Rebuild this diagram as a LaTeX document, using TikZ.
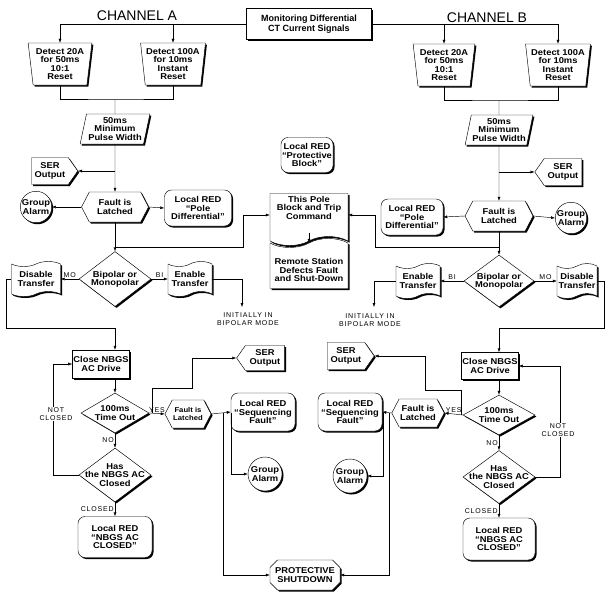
\documentclass[tikz,border=0pt]{standalone}
\usepackage{fontspec}
\setmainfont{Liberation Sans}
\newfontfamily\boxfont[Ligatures=TeX,FakeStretch=1.1]{Liberation Sans}
\newfontfamily\tagfont[Ligatures=TeX,LetterSpace=12]{Liberation Sans}
\usetikzlibrary{shapes.geometric,shapes.symbols,shapes.misc,shadows,arrows.meta}

\begin{document}
\begin{tikzpicture}[x=1pt,y=-1pt]
		\newcommand{\colA}{115} % main column of channel A
		\newcommand{\colB}{499} % main column of channel B
		\newcommand{\shad}{1.5pt} % offset of the heavy edges

		% set the styles of the boxes
		\tikzset{
			blk/.style={
				draw,
				line width=0.45pt,
				fill=white,
				align=center,
				inner sep=1pt,
				font=\boxfont\bfseries\fontsize{8.5}{8.4}\selectfont,
				drop shadow={shadow xshift=\shad, shadow yshift=-\shad, opacity=1, fill=black}
				},
			act/.style={blk, rectangle},
			det/.style={blk, trapezium, trapezium stretches=true, trapezium left angle=98, trapezium right angle=98, minimum height=42pt},
			pulse/.style={blk, trapezium, trapezium stretches=true, trapezium left angle=76, trapezium right angle=104, minimum height=30pt},
			ser/.style={blk, signal, signal pointer angle=110},
			latch/.style={blk, signal, signal pointer angle=125},
			alarm/.style={blk, circle, inner sep=0pt},
			red/.style={blk, rounded corners=7pt},
			dec/.style={blk, diamond, inner sep=-10pt},
			xfer/.style={blk, tape, tape bend height=5pt},
			small/.style={font=\boxfont\bfseries\fontsize{7}{7.4}\selectfont},
			tag/.style={font=\tagfont\fontsize{7}{7.6}\selectfont, inner sep=1pt, align=center},
			chan/.style={font=\fontsize{14}{14}\selectfont, inner sep=0pt},
			wire/.style={line width=0.45pt},
			arr/.style={wire, -{Latex[length=4pt,width=3pt]}}
		}
		\useasboundingbox (0,0) rectangle (607,597);

		% top
		\node[act, font=\bfseries\fontsize{9}{9.5}\selectfont, minimum width=125pt, minimum height=31pt] (mon) at (309,24) {Monitoring Differential\\CT Current Signals};
		\node[chan] (chA) at (137,16) {CHANNEL A};
		\node[chan] (chB) at (487,18) {CHANNEL B};

		% detectors
		\node[det, minimum width=64pt] (detA1) at (60,64) {Detect 20A\\for 50ms\\10:1\\Reset};
		\node[det, minimum width=62pt] (detA2) at (173,64) {Detect 100A\\for 10ms\\Instant\\Reset};
		\node[det, minimum width=62pt] (detB1) at (444,65) {Detect 20A\\for 50ms\\10:1\\Reset};
		\node[det, minimum width=63pt] (detB2) at (558,65) {Detect 100A\\for 10ms\\Instant\\Reset};

		\node[pulse, minimum width=70pt] (pulseA) at (\colA,129) {50ms\\Minimum\\Pulse Width};
		\node[pulse, minimum width=62pt] (pulseB) at (\colB,130) {50ms\\Minimum\\Pulse Width};

		% latching, channel A
		\node[ser, signal to=east, minimum width=46pt, minimum height=27pt] (serA1) at (50,171) {SER\\Output};
		\node[latch, signal to=east and west, minimum width=67pt, minimum height=30pt] (faultA1) at (\colA,207) {Fault is\\Latched};
		\node[alarm, minimum size=29pt] (grpA1) at (36,207) {Group\\Alarm};
		\node[red, minimum width=67pt, minimum height=36pt] (locA1) at (198,208) {Local RED\\``Pole\\Differential''};

		% latching, channel B
		\node[ser, signal to=west, minimum width=47pt, minimum height=27pt] (serB1) at (563,172) {SER\\Output};
		\node[latch, signal to=east and west, minimum width=68pt, minimum height=30pt] (faultB1) at (\colB,216) {Fault is\\Latched};
		\node[alarm, minimum size=29pt] (grpB1) at (571,218) {Group\\Alarm};
		\node[red, minimum width=62pt, minimum height=36pt] (locB1) at (412,217) {Local RED\\``Pole\\Differential''};

		% centre
		\node[red, minimum width=52pt, minimum height=35pt] (prot) at (307,155) {Local RED\\``Protective\\Block''};
		\node[xfer, tape bend top=none, tape bend height=9pt, minimum width=78pt, minimum height=52pt] (thisP) at (309,215) {This Pole\\Block and Trip\\Command\\[6pt]};
		\node[xfer, tape bend bottom=none, tape bend height=9pt, minimum width=78pt, minimum height=50pt] (remote) at (309,268) {\\[2pt]Remote Station\\Defects Fault\\and Shut-Down};

		% mode decision
		\node[dec, minimum width=72pt, minimum height=55pt] (diaA) at (\colA,279) {Bipolar or\\Monopolar};
		\node[dec, minimum width=70pt, minimum height=52pt] (diaB) at (\colB,281) {Bipolar or\\Monopolar};
		\node[xfer, minimum width=49pt, minimum height=35pt] (disA) at (36,279) {Disable\\Transfer};
		\node[xfer, minimum width=44pt, minimum height=35pt] (enA) at (190,279) {Enable\\Transfer};
		\node[xfer, minimum width=44pt, minimum height=35pt] (enB) at (418,281) {Enable\\Transfer};
		\node[xfer, minimum width=40pt, minimum height=35pt] (disB) at (577,281) {Disable\\Transfer};
		\node[tag] (iniA) at (248,319) {INITIALLY IN\\BIPOLAR MODE};
		\node[tag] (iniB) at (370,320) {INITIALLY IN\\BIPOLAR MODE};

		% NBGS sequence
		\node[act, minimum width=46pt, minimum height=28pt] (closeA) at (101,364) {Close NBGS\\AC Drive};
		\node[act, minimum width=54pt, minimum height=27pt] (closeB) at (490,366) {Close NBGS\\AC Drive};
		\node[dec, minimum width=68pt, minimum height=40pt] (timeA) at (\colA,413) {100ms\\Time Out};
		\node[dec, minimum width=72pt, minimum height=40pt] (timeB) at (\colB,415) {100ms\\Time Out};
		\node[dec, minimum width=72pt, minimum height=54pt] (hasA) at (\colA,475) {Has\\the NBGS AC\\Closed};
		\node[dec, minimum width=72pt, minimum height=53pt] (hasB) at (\colB,477) {Has\\the NBGS AC\\Closed};
		\node[red, minimum width=74pt, minimum height=41pt] (locA3) at (\colA,537) {Local RED\\``NBGS AC\\CLOSED''};
		\node[red, minimum width=72pt, minimum height=42pt] (locB3) at (\colB,539) {Local RED\\``NBGS AC\\CLOSED''};

		% sequencing fault
		\node[latch, small, signal to=east and west, minimum width=32pt, minimum height=28pt] (faultA2) at (188,414) {Fault is\\Latched};
		\node[latch, signal to=east and west, minimum width=43pt, minimum height=28pt] (faultB2) at (418,413) {Fault is\\Latched};
		\node[red, minimum width=64pt, minimum height=38pt] (locA2) at (263,412) {Local RED\\``Sequencing\\Fault''};
		\node[red, minimum width=64pt, minimum height=38pt] (locB2) at (350,412) {Local RED\\``Sequencing\\Fault''};
		\node[ser, signal to=west, minimum width=48pt, minimum height=25pt] (serA2) at (265,358) {SER\\Output};
		\node[ser, signal to=east, minimum width=47pt, minimum height=27pt] (serB2) at (346,356) {SER\\Output};
		\node[alarm, minimum size=34pt] (grpA2) at (265,474) {Group\\Alarm};
		\node[alarm, minimum size=34pt] (grpB2) at (350,476) {Group\\Alarm};
		\node[blk, chamfered rectangle, chamfered rectangle xsep=4pt, minimum width=70pt, minimum height=30pt] (shut) at (305,575) {PROTECTIVE\\SHUTDOWN};

		% junctions
		\coordinate (jA) at (\colA,99);
		\coordinate (jB) at (\colB,100);
		\coordinate (kA) at (\colA,247);
		\coordinate (kA2) at (243,247);
		\coordinate (kB) at (\colB,247);
		\coordinate (kB2) at (375,247);
		\coordinate (eA) at (242,307);
		\coordinate (eB) at (374,307);
		\coordinate (dA) at (6,328);
		\coordinate (dA2) at (\colA,328);
		\coordinate (dB) at (604,328);
		\coordinate (dB2) at (\colB,328);
		\coordinate (yA) at (152,413);
		\coordinate (yA2) at (192,388);
		\coordinate (yB) at (461,415);
		\coordinate (yB2) at (425,390);
		\coordinate (vA1) at (223,413);
		\coordinate (vA2) at (231,413);
		\coordinate (vB1) at (383,413);
		\coordinate (vB2) at (389,413);
		\coordinate (nA) at (53,475);
		\coordinate (nB) at (560,477);

		% feed to the detectors
		\draw[arr] (mon.west) -| (detA1.north);
		\draw[arr] (mon.west -| detA2.north) -- (detA2.north);
		\draw[arr] (mon.east) -| (detB2.north);
		\draw[arr] (mon.east -| detB1.north) -- (detB1.north);
		\draw[wire] (detA1.south) |- (jA) -| (detA2.south);
		\draw[wire] (detB1.south) |- (jB) -| (detB2.south);
		\draw[wire] (jA) -- (pulseA.north);
		\draw[wire] (jB) -- (pulseB.north);

		% latching
		\draw[arr] (pulseA.south) -- (faultA1.north);
		\draw[arr] (pulseA.south |- serA1.east) -- (serA1.east);
		\draw[arr] (faultA1.west) -- (grpA1.east);
		\draw[arr] (faultA1.east) -- (locA1.west);
		\draw[arr] (pulseB.south) -- (faultB1.north);
		\draw[arr] (pulseB.south |- serB1.west) -- (serB1.west);
		\draw[arr] (faultB1.east) -- (grpB1.west);
		\draw[arr] (faultB1.west) -- (locB1.east);

		% trip command
		\draw[wire] (faultA1.south) -- (kA);
		\draw[arr] (kA) -- (kA2) |- (thisP.west);
		\draw[wire] (faultB1.south) -- (kB);
		\draw[arr] (kB) -- (kB2) |- (thisP.east);
		\draw[arr] ([yshift=4pt]thisP.south) -- (remote.north);

		% mode
		\draw[arr] (kA) -- (diaA.north);
		\draw[arr] (kB) -- (diaB.north);
		\draw[arr] (diaA.west) -- node[tag, above] {MO} (disA.east);
		\draw[arr] (diaA.east) -- node[tag, above] {BI} (enA.west);
		\draw[arr] (diaB.east) -- node[tag, above] {MO} (disB.west);
		\draw[arr] (diaB.west) -- node[tag, above] {BI} (enB.east);
		\draw[arr] (enA.east) -| (eA);
		\draw[arr] (enB.west) -| (eB);
		\draw[arr] (disA.west) -| (dA) -- (dA2) -- (dA2 |- closeA.north);
		\draw[arr] (disB.east) -| (dB) -- (dB2) -- (dB2 |- closeB.north);

		% NBGS sequence
		\draw[arr] (dA2 |- closeA.south) -- (timeA.north);
		\draw[arr] (dB2 |- closeB.south) -- (timeB.north);
		\draw[arr] (timeA.south) -- node[tag, left] {NO} (hasA.north);
		\draw[arr] (timeB.south) -- node[tag, left] {NO} (hasB.north);
		\draw[arr] (hasA.south) -- node[tag, left] {CLOSED} (locA3.north);
		\draw[arr] (hasB.south) -- node[tag, left] {CLOSED} (locB3.north);
		\draw[arr] (hasA.west) -- (nA) |- (closeA.west);
		\draw[arr] (hasB.east) -- (nB) |- (closeB.east);
		\node[tag, fill=white] (ncA) at (56,414) {NOT\\CLOSED};
		\node[tag, fill=white] (ncB) at (558,430) {NOT\\CLOSED};

		% sequencing fault
		\draw[arr] (timeA.east) -- node[tag, above] {YES} (faultA2.west);
		\draw[arr] (timeB.west) -- node[tag, above] {YES} (faultB2.east);
		\draw[arr] (yA) |- (yA2) |- (serA2.west);
		\draw[arr] (yB) |- (yB2) |- (serB2.east);
		\draw[arr] (faultA2.east) -- (locA2.west);
		\draw[arr] (faultB2.west) -- (locB2.east);
		\draw[arr] (vA2) |- (grpA2.west);
		\draw[arr] (vB1) |- (grpB2.east);
		\draw[arr] (vA1) |- (shut.west);
		\draw[arr] (vB2) |- (shut.east);
\end{tikzpicture}
\end{document}
